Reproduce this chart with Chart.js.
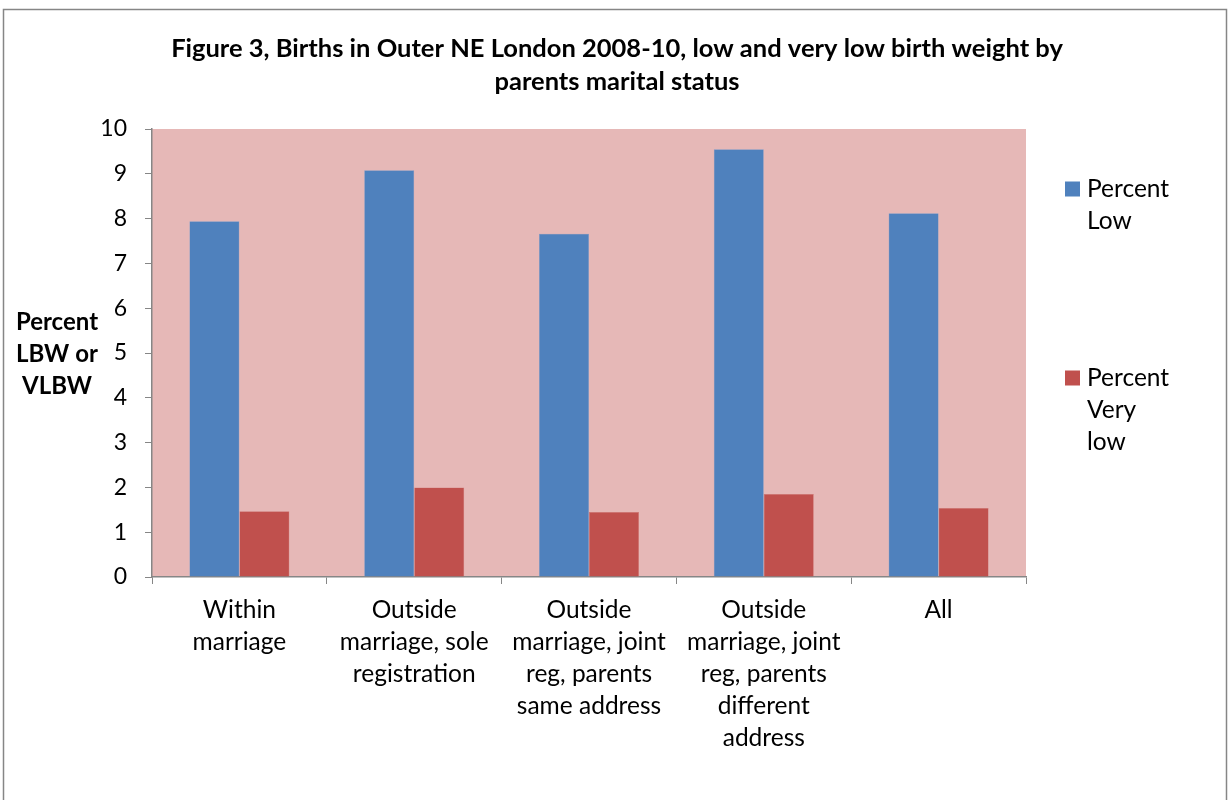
<!DOCTYPE html>
<html>
<head>
<meta charset="utf-8">
<script src="https://cdn.jsdelivr.net/npm/chart.js@4/dist/chart.umd.min.js"></script>
<style>
  html, body { margin: 0; padding: 0; background: #fff; }
  #wrap { position: relative; width: 1230px; height: 800px; }
</style>
</head>
<body>
<div id="wrap"><canvas id="chart" width="1230" height="800"></canvas></div>
<script>
const titleLines = ["Figure 3, Births in Outer NE London 2008-10, low and very low birth weight by", "parents marital status"];
const yTitleLines = ["Percent", "LBW or", "VLBW"];
const categories = [
  ["Within", "marriage"],
  ["Outside", "marriage, sole", "registration"],
  ["Outside", "marriage, joint", "reg, parents", "same address"],
  ["Outside", "marriage, joint", "reg, parents", "different", "address"],
  ["All"]
];
const seriesNames = ["Percent Low", "Percent Very low"];
const legendLines = [["Percent", "Low"], ["Percent", "Very", "low"]];
const percentLow = [7.94, 9.08, 7.66, 9.55, 8.12];
const percentVeryLow = [1.47, 2.0, 1.45, 1.85, 1.54];
const yTicks = [0, 1, 2, 3, 4, 5, 6, 7, 8, 9, 10];

const FONT = "Lato, 'Open Sans', sans-serif";
const axisGray = "#868686";

const decorPlugin = {
  id: "decor",
  beforeDraw(chart) {
    const ctx = chart.ctx, a = chart.chartArea;
    ctx.save();
    ctx.fillStyle = "#E6B8B7";
    ctx.fillRect(a.left, a.top, a.right - a.left, a.bottom - a.top);
    ctx.strokeStyle = axisGray;
    ctx.lineWidth = 1.5;
    ctx.strokeRect(3.5, 9.5, 1223, 800);
    ctx.restore();
  },
  afterDraw(chart) {
    const ctx = chart.ctx;
    ctx.save();
    ctx.fillStyle = "#000";
    ctx.textBaseline = "middle";
    // title
    ctx.textAlign = "center";
    ctx.font = "bold 25.5px " + FONT;
    titleLines.forEach((t, i) => ctx.fillText(t, 617, 49 + i * 33));
    // y axis title
    ctx.font = "bold 24px " + FONT;
    yTitleLines.forEach((t, i) => ctx.fillText(t, 57, 322 + i * 32));
    // legend
    ctx.textAlign = "left";
    ctx.font = "24.5px " + FONT;
    const tops = [189, 378];
    chart.data.datasets.forEach((ds, k) => {
      ctx.fillStyle = ds.backgroundColor;
      ctx.fillRect(1065, tops[k] - 7.5, 15, 15);
      ctx.fillStyle = "#000";
      legendLines[k].forEach((t, i) => ctx.fillText(t, 1087, tops[k] + i * 32));
    });
    ctx.restore();
  }
};

new Chart(document.getElementById("chart"), {
  type: "bar",
  data: {
    labels: categories,
    datasets: [
      { label: seriesNames[0], data: percentLow, backgroundColor: "#4F81BD", borderColor: "#7A9FCE", borderWidth: 0.5,
        barPercentage: 1, categoryPercentage: 0.572 },
      { label: seriesNames[1], data: percentVeryLow, backgroundColor: "#C0504D", borderColor: "#D07A78", borderWidth: 0.5,
        barPercentage: 1, categoryPercentage: 0.572 }
    ]
  },
  options: {
    responsive: false,
    animation: false,
    layout: { padding: { top: 129, right: 204, left: 0, bottom: 0 } },
    plugins: { legend: { display: false }, title: { display: false }, tooltip: { enabled: false } },
    scales: {
      x: {
        grid: { display: true, drawOnChartArea: false, offset: true, tickLength: 7, color: axisGray },
        border: { color: axisGray, width: 1.5 },
        ticks: { color: "#000", font: { family: FONT, size: 24.5, lineHeight: 1.31 }, padding: 10, maxRotation: 0, autoSkip: false },
        afterFit(s) { s.height = 223; }
      },
      y: {
        min: 0, max: 10,
        afterBuildTicks(s) { s.ticks = yTicks.map(v => ({ value: v })); },
        grid: { display: true, drawOnChartArea: false, tickLength: 7, color: axisGray },
        border: { color: axisGray, width: 1.5 },
        ticks: { color: "#000", font: { family: FONT, size: 23 }, padding: 18 },
        afterFit(s) { s.width = 152; }
      }
    }
  },
  plugins: [decorPlugin]
});
</script>
</body>
</html>
